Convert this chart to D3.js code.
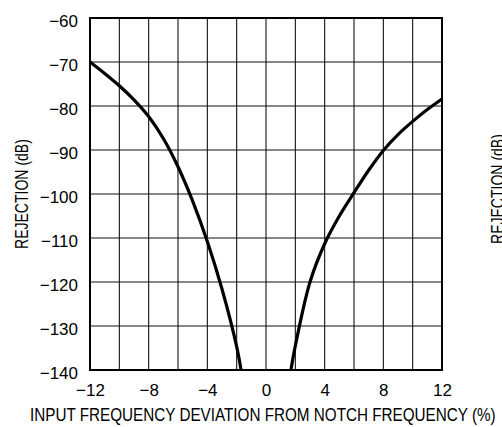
<!DOCTYPE html>
<html>
<head>
<meta charset="utf-8">
<script src="https://cdn.jsdelivr.net/npm/d3@7"></script>
<style>
  html, body { margin: 0; padding: 0; background: #fff; }
  svg { display: block; }
</style>
</head>
<body>
<svg id="chart" width="502" height="427"></svg>
<script>
// ---- data ----
const xTicks = [-12, -8, -4, 0, 4, 8, 12];
const yTicks = [-60, -70, -80, -90, -100, -110, -120, -130, -140];
const xGrid = [-10, -8, -6, -4, -2, 0, 2, 4, 6, 8, 10];
const leftX  = [-12, -11, -10, -9, -8, -7, -6, -5, -4, -3, -2, -1.7];
const leftY  = [-70, -72.6, -75.4, -78.6, -82.4, -87.4, -93.8, -101.6, -110.8, -121.6, -134.7, -140];
const rightX = [1.7, 2, 3, 4, 5, 6, 7, 8, 9, 10, 11, 12];
const rightY = [-140, -134.5, -120, -111.3, -105, -99.7, -94.6, -90.1, -86.5, -83.5, -80.8, -78.4];
const xTitle = "INPUT FREQUENCY DEVIATION FROM NOTCH FREQUENCY (%)";
const yTitle = "REJECTION (dB)";

(function () {
// ---- layout ----
const pL = 90, pR = 442, pT = 18, pB = 370;
const svg = d3.select("#chart");
const x = d3.scaleLinear().domain([-12, 12]).range([pL, pR]);
const y = d3.scaleLinear().domain([-60, -140]).range([pT, pB]);
const font = "'Liberation Sans', Arial, Helvetica, sans-serif";

// grid
const g = svg.append("g");
g.selectAll("line.v").data(xGrid).join("line")
  .attr("x1", d => x(d)).attr("x2", d => x(d))
  .attr("y1", pT).attr("y2", pB)
  .attr("stroke", "#111").attr("stroke-width", 1.1);
g.selectAll("line.h").data(yTicks.slice(1, -1)).join("line")
  .attr("x1", pL).attr("x2", pR)
  .attr("y1", d => y(d)).attr("y2", d => y(d))
  .attr("stroke", "#111").attr("stroke-width", 1.1);

// frame
svg.append("rect").attr("x", pL).attr("y", pT)
  .attr("width", pR - pL).attr("height", pB - pT)
  .attr("fill", "none").attr("stroke", "#000").attr("stroke-width", 2);

// axes (labels only)
const fmt = d => d < 0 ? "\u2212" + Math.abs(d) : String(d);
const xAxis = d3.axisBottom(x).tickValues(xTicks).tickSize(0).tickPadding(0).tickFormat(fmt);
const xa = svg.append("g").attr("transform", `translate(0,${pB})`).call(xAxis);
xa.select(".domain").remove();
xa.selectAll("text").attr("y", 26).attr("dy", null)
  .attr("font-family", font).attr("font-size", 17).attr("fill", "#000");

const yAxis = d3.axisLeft(y).tickValues(yTicks).tickSize(0).tickPadding(0).tickFormat(fmt);
const ya = svg.append("g").attr("transform", `translate(${pL},0)`).call(yAxis);
ya.select(".domain").remove();
ya.selectAll("text").attr("x", -12).attr("dy", "0.5em")
  .attr("font-family", font).attr("font-size", 17).attr("fill", "#000");

// titles, condensed to the measured widths of the reference
function condensed(txt, size, width, pos) {
  const t = svg.append("text")
    .attr("font-family", font).attr("font-size", size).attr("fill", "#000").text(txt);
  const w = t.node().getComputedTextLength();
  t.attr("transform", `${pos} scale(${width / w},1)`);
  return t;
}
condensed(xTitle, 19, 466, "translate(30,421)");
condensed(yTitle, 18, 110, `translate(28,${(pT + pB) / 2 + 55}) rotate(-90)`);
// clipped neighbouring panel title
condensed(yTitle, 18, 110, `translate(504,${(pT + pB) / 2 + 50}) rotate(-90)`);

// curves
const line = d3.line().x(d => x(d[0])).y(d => y(d[1])).curve(d3.curveCatmullRom.alpha(0.5));
const branches = [d3.zip(leftX, leftY), d3.zip(rightX, rightY)];
svg.selectAll("path.curve").data(branches).join("path")
  .attr("class", "curve")
  .attr("d", line)
  .attr("fill", "none").attr("stroke", "#000").attr("stroke-width", 3.2)
  .attr("stroke-linecap", "butt");
})();
</script>
</body>
</html>
